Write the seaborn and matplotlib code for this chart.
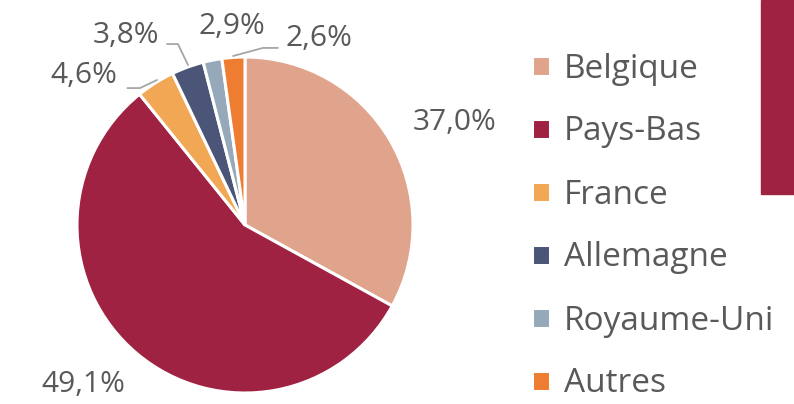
import matplotlib
matplotlib.use("Agg")
import matplotlib.pyplot as plt
import seaborn as sns

# données (parts, libellés tels qu'affichés)
pays = ["Belgique", "Pays-Bas", "France", "Allemagne", "Royaume-Uni", "Autres"]
parts = [33.0, 56.2, 3.7, 3.1, 1.8, 2.2]
etiquettes = ["37,0%", "49,1%", "4,6%", "3,8%", "2,9%", "2,6%"]
couleurs = ["#E0A48C", "#A02243", "#F2A754", "#4A5577", "#96A9BA", "#EE7D31"]

# position des étiquettes (coordonnées du rayon, centre = 0,0)
pos_etiquettes = [(1.25, 0.61), (-0.96, -0.95), (-0.96, 0.89),
                  (-0.71, 1.13), (-0.08, 1.18), (0.44, 1.11)]
# lignes de rappel
rappels = {
    "France": [(-0.70, 0.815), (-0.625, 0.815), (-0.524, 0.863)],
    "Allemagne": [(-0.464, 1.077), (-0.399, 1.077), (-0.339, 0.952)],
    "Autres": [(0.196, 1.054), (0.107, 1.054), (-0.071, 1.006)],
}

sns.set_style("white")
plt.rcParams["font.family"] = ["Open Sans", "DejaVu Sans"]

W, H = 794, 404
fig = plt.figure(figsize=(W / 100, H / 100), dpi=100)
cx, cy, R = 245, 225, 168
ax = fig.add_axes([(cx - R) / W, (H - cy - R) / H, 2 * R / W, 2 * R / H])

wedges, _ = ax.pie(parts, colors=couleurs, startangle=90, counterclock=False,
                   radius=1, wedgeprops=dict(edgecolor="white", linewidth=2.2))
ax.set_xlim(-1, 1)
ax.set_ylim(-1, 1)
ax.set_aspect("equal")
ax.axis("off")

gris = "#595959"
for txt, (x, y) in zip(etiquettes, pos_etiquettes):
    ax.text(x, y, txt, ha="center", va="center", fontsize=21.5, color=gris, clip_on=False)

for pts in rappels.values():
    xs, ys = zip(*pts)
    ax.plot(xs, ys, color="#A6A6A6", lw=1.3, clip_on=False)

fig.legend(wedges, pays, loc="center left", bbox_to_anchor=(532 / W, (H - 226.5) / H),
           frameon=False, fontsize=24, labelcolor=gris, handlelength=0.55,
           handleheight=0.55, handletextpad=0.4, labelspacing=0.9,
           borderpad=0, borderaxespad=0)

# bandeau rouge à droite (coupé)
fig.patches.append(plt.Rectangle((761 / W, (H - 194) / H), 40 / W, 194 / H,
                                 transform=fig.transFigure, color="#A02243"))

fig.savefig("out.png", dpi=100)
